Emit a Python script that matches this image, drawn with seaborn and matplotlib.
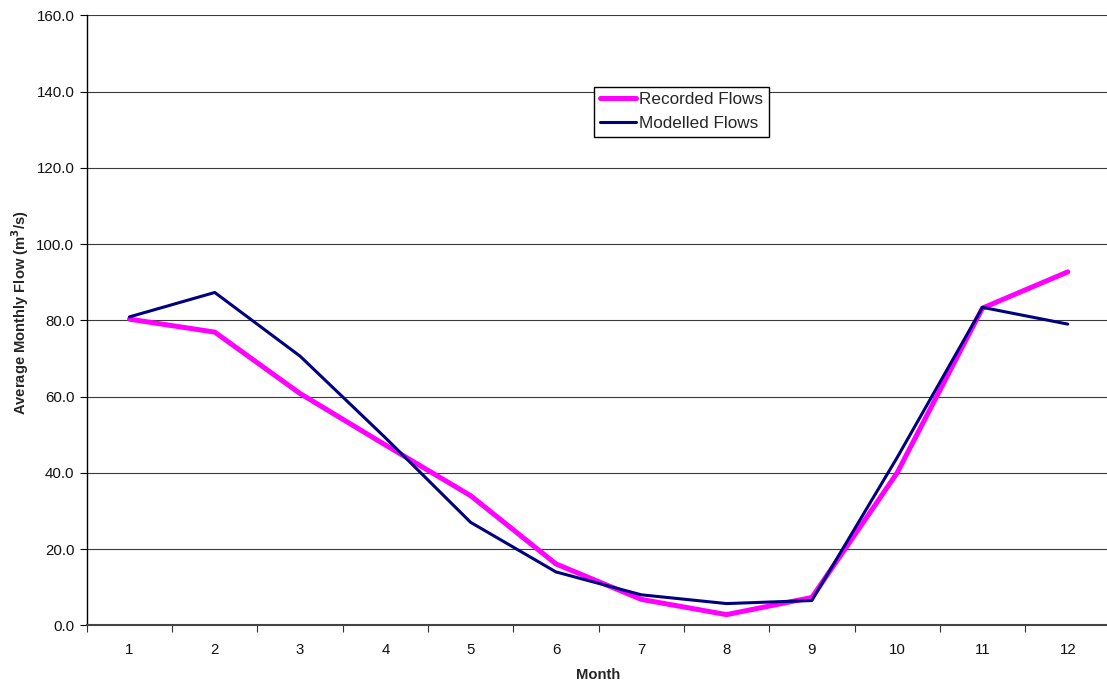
import matplotlib
matplotlib.use("Agg")
import matplotlib.pyplot as plt
from matplotlib.ticker import FixedLocator, FormatStrFormatter
import seaborn as sns
import pandas as pd

months = [1, 2, 3, 4, 5, 6, 7, 8, 9, 10, 11, 12]
recorded = [80.3, 76.9, 60.8, 47.3, 34.0, 16.1, 6.8, 2.8, 7.3, 40.0, 83.2, 92.7]
modelled = [80.9, 87.3, 70.6, 49.2, 27.0, 14.0, 8.0, 5.7, 6.5, 44.0, 83.4, 79.0]
series_names = ["Recorded Flows", "Modelled Flows"]
y_ticks = [0, 20, 40, 60, 80, 100, 120, 140, 160]

df = pd.DataFrame({
    "Month": months * 2,
    "Flow": recorded + modelled,
    "Series": [series_names[0]] * len(months) + [series_names[1]] * len(months),
})

sns.set_style("white")
plt.rcParams["font.family"] = ["Liberation Sans", "DejaVu Sans"]

W, H = 1107, 685
fig = plt.figure(figsize=(W / 100, H / 100), dpi=100)
ax = fig.add_axes([86.8 / W, (H - 625.3) / H, 1023.6 / W, 610.0 / H])

palette = {series_names[0]: "#FF00FF", series_names[1]: "#000080"}
sns.lineplot(data=df, x="Month", y="Flow", hue="Series", palette=palette,
             ax=ax, legend=False, estimator=None)
ax.lines[0].set_linewidth(3.6)
ax.lines[1].set_linewidth(2.2)
ax.lines[0].set_solid_capstyle("round")
ax.lines[1].set_solid_capstyle("round")

ax.set_xlim(0.5, 12.5)
ax.set_ylim(0, 160)

# horizontal gridlines
ax.yaxis.set_major_locator(FixedLocator(y_ticks))
ax.yaxis.set_major_formatter(FormatStrFormatter("%.1f"))
ax.grid(axis="y", color="#3a3a3a", linewidth=0.8)
ax.grid(axis="x", visible=False)
ax.set_axisbelow(True)

# category labels at centres, tick marks between categories
ax.set_xticks(months)
ax.set_xticklabels([str(m) for m in months])
ax.set_xticks([m + 0.5 for m in [0] + months], minor=True)
ax.tick_params(axis="x", which="major", length=0, pad=13, labelsize=10.8, colors="#111111")
ax.tick_params(axis="x", which="minor", length=5, width=0.8, color="#333333", direction="out")
ax.tick_params(axis="y", which="major", length=5, width=0.8, color="black",
               direction="out", labelsize=10.8, pad=4, labelcolor="#111111")
ax.tick_params(left=True, bottom=True, which="both")

for side in ["top", "right"]:
    ax.spines[side].set_visible(False)
ax.spines["left"].set_color("black")
ax.spines["left"].set_linewidth(1.0)
ax.spines["bottom"].set_color("#444444")
ax.spines["bottom"].set_linewidth(1.5)

ax.set_xlabel("Month", fontsize=10.6, fontweight="bold", labelpad=8)
ax.set_ylabel("Average Monthly Flow (m$^\\mathbf{3}$/s)", fontsize=10.6, fontweight="bold")
ax.yaxis.set_label_coords(-0.0545, 0.512)

handles = [
    plt.Line2D([], [], color=palette[series_names[0]], linewidth=3.6),
    plt.Line2D([], [], color=palette[series_names[1]], linewidth=2.2),
]
leg = fig.legend(handles, series_names, loc="upper left",
                 bbox_to_anchor=(594 / W, 1 - 86.5 / H), fontsize=12.3,
                 frameon=True, fancybox=False, framealpha=1, edgecolor="black",
                 handlelength=2.1, handletextpad=0.2, borderpad=0.35,
                 labelspacing=0.5, borderaxespad=0)
leg.get_frame().set_linewidth(1.0)

fig.savefig("out.png", dpi=100, facecolor="white")
